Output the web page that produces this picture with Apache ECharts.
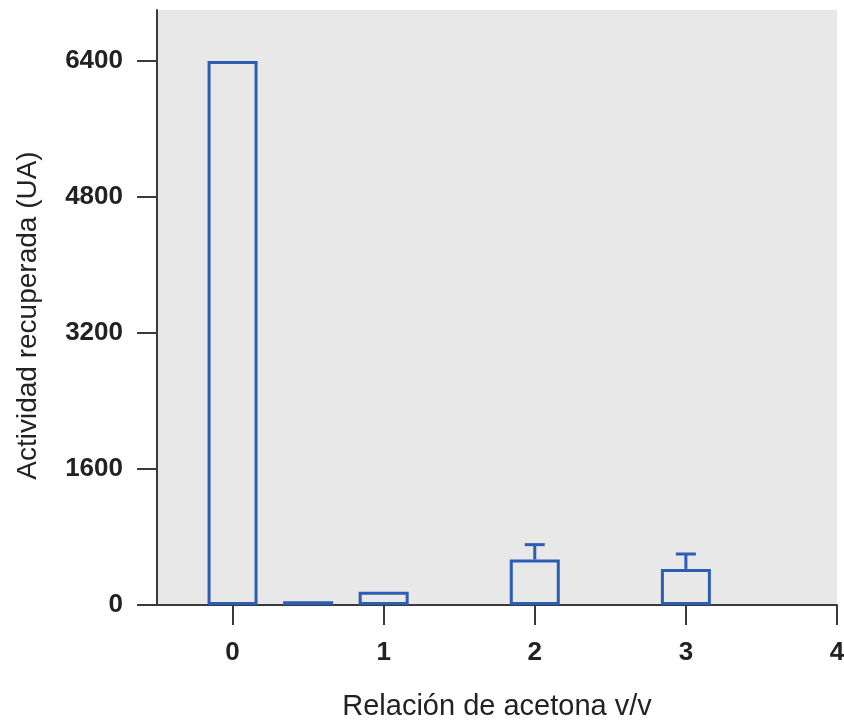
<!DOCTYPE html>
<html>
<head>
<meta charset="utf-8">
<script src="https://cdn.jsdelivr.net/npm/echarts@6/dist/echarts.min.js"></script>
<style>
html, body { margin: 0; padding: 0; background: #fff; }
#main { width: 844px; height: 725px; }
</style>
</head>
<body>
<div id="main"></div>
<script>
"use strict";

/*-----data-----*/
var ratios = [0, 0.5, 1, 2, 3];
var activity = [6400, 45, 155, 535, 425];
var errorTop = [null, null, null, 710, 600];
var yTicks = [0, 1600, 3200, 4800, 6400];
var xTicks = [0, 1, 2, 3, 4];

var blue = '#2b5db4';
var axisColor = '#3a3a3a';

var barData = ratios.map(function (r, i) { return [r, activity[i]]; });
var errData = [];
ratios.forEach(function (r, i) {
	if (errorTop[i] != null) errData.push([r, activity[i], errorTop[i]]);
});

var chart = echarts.init(document.getElementById('main'));
var option = {
	animation: false,
	grid: {
		left: 157,
		right: 7,
		top: 10,
		bottom: 120,
		outerBoundsMode: 'none',
		containLabel: false,
		show: true,
		backgroundColor: '#e8e8e8',
		borderWidth: 0
	},
	xAxis: {
		type: 'value',
		min: -0.5,
		max: 4,
		name: 'Relación de acetona v/v',
		nameLocation: 'middle',
		nameGap: 87,
		nameTextStyle: { fontFamily: 'Liberation Sans', fontSize: 29, color: '#222' },
		axisLine: { show: true, onZero: false, lineStyle: { color: axisColor, width: 2 } },
		axisTick: { show: true, length: 20, customValues: xTicks, lineStyle: { color: axisColor, width: 2 } },
		axisLabel: {
			customValues: xTicks,
			margin: 35,
			fontFamily: 'Liberation Sans',
			fontSize: 26,
			fontWeight: 'bold',
			color: '#222'
		},
		splitLine: { show: false }
	},
	yAxis: {
		type: 'value',
		min: 0,
		max: 7000,
		name: 'Actividad recuperada (UA)',
		nameLocation: 'middle',
		nameGap: 115,
		nameRotate: 90,
		nameTextStyle: {
			fontFamily: 'Liberation Sans',
			fontSize: 28,
			color: '#222',
			padding: [0, 16, 0, 0]
		},
		axisLine: { show: true, onZero: false, lineStyle: { color: axisColor, width: 2 } },
		axisTick: { show: true, length: 20, customValues: yTicks, lineStyle: { color: axisColor, width: 2 } },
		axisLabel: {
			customValues: yTicks,
			formatter: function (v) { return String(v); },
			margin: 34,
			fontFamily: 'Liberation Sans',
			fontSize: 26,
			fontWeight: 'bold',
			color: '#222'
		},
		splitLine: { show: false }
	},
	series: [{
		type: 'bar',
		data: barData,
		barWidth: 50,
		itemStyle: {
			color: 'rgba(0,0,0,0)',
			borderColor: blue,
			borderWidth: 3
		},
		z: 3
	}, {
		type: 'custom',
		data: errData,
		z: 4,
		renderItem: function (params, api) {
			var x = api.value(0);
			var base = api.coord([x, api.value(1)]);
			var top = api.coord([x, api.value(2)]);
			var half = 10;
			var style = { stroke: blue, lineWidth: 3 };
			return {
				type: 'group',
				children: [{
					type: 'line',
					shape: { x1: base[0], y1: base[1], x2: top[0], y2: top[1] },
					style: style
				}, {
					type: 'line',
					shape: { x1: top[0] - half, y1: top[1], x2: top[0] + half, y2: top[1] },
					style: style
				}]
			};
		}
	}]
};
chart.setOption(option);
</script>
</body>
</html>
